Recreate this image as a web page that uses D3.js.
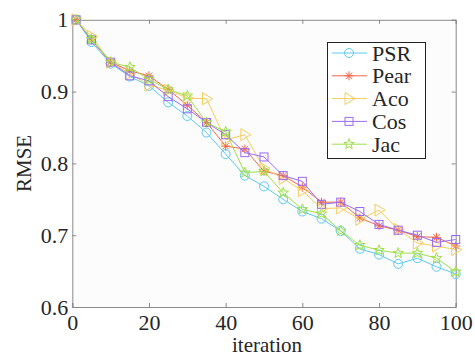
<!DOCTYPE html>
<html>
<head>
<meta charset="utf-8">
<script src="https://cdn.jsdelivr.net/npm/d3@7"></script>
<style>
body{margin:0;background:#fff;}
svg text{font-family:"Liberation Serif","Times New Roman",serif;fill:#262626;}
</style>
</head>
<body>
<div id="chart"></div>
<script>
// iterations
var iterations = [1,5,10,15,20,25,30,35,40,45,50,55,60,65,70,75,80,85,90,95,100];

var psr  = [1.000,0.969,0.939,0.921,0.908,0.885,0.866,0.843,0.813,0.783,0.768,0.750,0.733,0.723,0.706,0.681,0.673,0.660,0.668,0.656,0.646];
var pear = [1.000,0.972,0.941,0.929,0.922,0.903,0.881,0.857,0.824,0.820,0.789,0.783,0.767,0.746,0.746,0.724,0.713,0.707,0.698,0.697,0.685];
var aco  = [1.000,0.977,0.941,0.925,0.909,0.902,0.891,0.890,0.833,0.840,0.793,0.779,0.762,0.737,0.738,0.722,0.735,0.708,0.689,0.685,0.680];
var cos  = [1.000,0.972,0.941,0.922,0.915,0.893,0.876,0.857,0.840,0.815,0.809,0.783,0.775,0.743,0.746,0.733,0.715,0.707,0.700,0.690,0.694];
var jac  = [1.000,0.973,0.941,0.934,0.917,0.903,0.894,0.857,0.844,0.787,0.789,0.759,0.736,0.730,0.706,0.686,0.679,0.675,0.675,0.668,0.649];

var seriesNames  = ['PSR','Pear','Aco','Cos','Jac'];
var seriesValues = [psr, pear, aco, cos, jac];
var seriesColors = ['#5ccbee','#f2664a','#f6cc5a','#9b6cf2','#9fdf48'];
var seriesMarkers = ['circle','asterisk','triangle','square','star'];

var xTicks = [0,20,40,60,80,100];
var yTicks = [0.6,0.7,0.8,0.9,1];

var width = 475, height = 358;
var margin = {left:72.3, right:19.3, top:19.8, bottom:51};

var svg = d3.select('#chart').append('svg')
    .attr('width', width)
    .attr('height', height);

var x = d3.scaleLinear().domain([0,100]).range([margin.left, width - margin.right]);
var y = d3.scaleLinear().domain([0.6,1]).range([height - margin.bottom, margin.top]);

// plot background
svg.append('rect')
    .attr('x', x(0)).attr('y', y(1))
    .attr('width', x(100)-x(0)).attr('height', y(0.6)-y(1))
    .style('fill', '#fcfcfc');

var axisColor = '#8a8a8a';

//axis-x bottom
var $axisX = svg.append('g').attr('transform', 'translate(0,'+y(0.6)+')')
    .call(d3.axisBottom(x).tickValues(xTicks).tickSize(-4).tickPadding(7).tickFormat(d3.format('d')));
//axis-x top
var $axisXTop = svg.append('g').attr('transform', 'translate(0,'+y(1)+')')
    .call(d3.axisTop(x).tickValues(xTicks).tickSize(-4).tickFormat(''));
//axis-y left
var $axisY = svg.append('g').attr('transform', 'translate('+x(0)+',0)')
    .call(d3.axisLeft(y).tickValues(yTicks).tickSize(-4).tickPadding(4).tickFormat(function(d){
        return d === 1 ? '1' : d3.format('.1f')(d);
    }));
//axis-y right
var $axisYRight = svg.append('g').attr('transform', 'translate('+x(100)+',0)')
    .call(d3.axisRight(y).tickValues(yTicks).tickSize(-4).tickFormat(''));

[$axisX, $axisXTop, $axisY, $axisYRight].forEach(function($a){
    $a.select('.domain').style('stroke', axisColor).style('stroke-width', 1);
    $a.selectAll('.tick line').style('stroke', axisColor);
    $a.selectAll('.tick text').style('font-size', '22px').style('font-family', '"Liberation Serif",serif').style('fill', '#262626');
});

// axis labels
svg.append('text')
    .attr('x', (x(0)+x(100))/2 + 3)
    .attr('y', 352)
    .attr('text-anchor', 'middle')
    .style('font-size', '21px')
    .text('iteration');

svg.append('text')
    .attr('transform', 'translate(31,'+((y(0.6)+y(1))/2)+') rotate(-90)')
    .attr('text-anchor', 'middle')
    .style('font-size', '21px')
    .text('RMSE');

// marker drawing
function drawMarker($g, type, cx, cy, color){
    if(type === 'circle'){
        $g.append('circle').attr('cx', cx).attr('cy', cy).attr('r', 4.5)
            .style('fill', 'none').style('stroke', color);
    }else if(type === 'square'){
        $g.append('rect').attr('x', cx-4).attr('y', cy-4).attr('width', 8).attr('height', 8)
            .style('fill', 'none').style('stroke', color);
    }else if(type === 'triangle'){
        $g.append('path').attr('d', 'M'+(cx-4)+','+(cy-6)+'L'+(cx+6)+','+cy+'L'+(cx-4)+','+(cy+6)+'Z')
            .style('fill', 'none').style('stroke', color);
    }else if(type === 'asterisk'){
        var r = 4.5, p = [];
        for(var k=0; k<4; k++){
            var a = k*Math.PI/4;
            p.push('M'+(cx-r*Math.cos(a))+','+(cy-r*Math.sin(a))+'L'+(cx+r*Math.cos(a))+','+(cy+r*Math.sin(a)));
        }
        $g.append('path').attr('d', p.join('')).style('fill', 'none').style('stroke', color);
    }else if(type === 'star'){
        var pts = [];
        for(var i=0; i<10; i++){
            var rr = i%2===0 ? 5.5 : 2.3;
            var ang = -Math.PI/2 + i*Math.PI/5;
            pts.push([cx + rr*Math.cos(ang), cy + rr*Math.sin(ang)]);
        }
        $g.append('path').attr('d', 'M'+pts.join('L')+'Z').style('fill', 'none').style('stroke', color);
    }
}

var line = d3.line()
    .x(function(d){ return x(d[0]); })
    .y(function(d){ return y(d[1]); });

for(var s=0; s<seriesNames.length; s++){
    var pts = iterations.map(function(it, i){ return [it, seriesValues[s][i]]; });
    var $g = svg.append('g');
    $g.append('path').attr('d', line(pts))
        .style('fill', 'none').style('stroke', seriesColors[s]).style('stroke-width', 1);
    for(var i=0; i<pts.length; i++){
        drawMarker($g, seriesMarkers[s], x(pts[i][0]), y(pts[i][1]), seriesColors[s]);
    }
}

// legend
var lg = {x:327, y:42, w:98, h:116, step:22.8};
var $legend = svg.append('g');
$legend.append('rect').attr('x', lg.x+0.5).attr('y', lg.y+0.5).attr('width', lg.w).attr('height', lg.h)
    .style('fill', '#fff').style('stroke', '#222').style('stroke-width', 1);
for(var j=0; j<seriesNames.length; j++){
    var ly = lg.y + 11 + j*lg.step;
    $legend.append('line').attr('x1', lg.x+5).attr('x2', lg.x+40).attr('y1', ly).attr('y2', ly)
        .style('stroke', seriesColors[j]).style('stroke-width', 1);
    drawMarker($legend, seriesMarkers[j], lg.x+22, ly, seriesColors[j]);
    $legend.append('text').attr('x', lg.x+45).attr('y', ly+7.5)
        .style('font-size', '22px').text(seriesNames[j]);
}
</script>
</body>
</html>
